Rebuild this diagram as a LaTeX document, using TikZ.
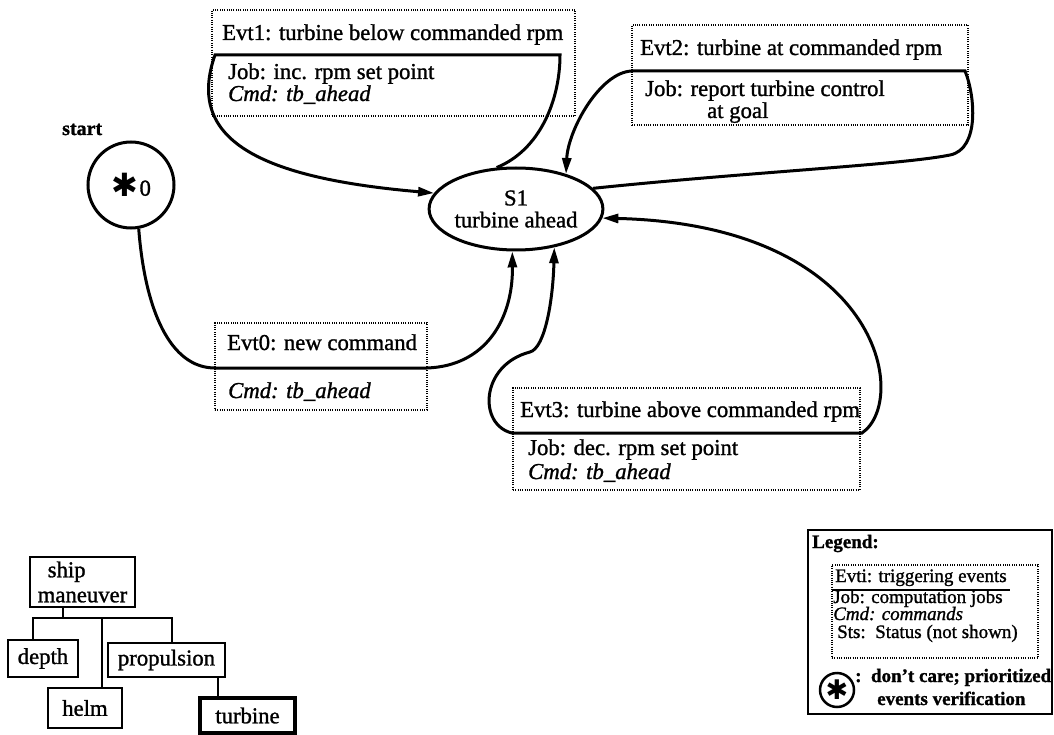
\documentclass[tikz,border=0pt]{standalone}
\usepackage{fontspec}
\setmainfont{Liberation Serif}[FakeBold=1.2]
\newfontfamily\symfont{DejaVu Sans}
\usetikzlibrary{arrows.meta,shapes.geometric,calc}
\newcommand\txtmain{\fontsize{22.7pt}{20pt}\selectfont}
\newcommand\txtleg{\fontsize{19pt}{18pt}\selectfont}
\begin{document}
\begin{tikzpicture}[x=1pt,y=-1pt,
  link/.style={line width=3pt},
  tip/.style={-{Triangle[length=16pt,width=9pt]}},
  bothtips/.style={{Triangle[length=16pt,width=9pt]}-{Triangle[length=16pt,width=9pt]}},
  evtbox/.style={draw, line width=1.2pt, dash pattern=on 1pt off 1.3pt, inner sep=0},
  lbl/.style={inner sep=0, anchor=base west, font=\txtmain},
  lblit/.style={lbl, font=\txtmain\itshape},
  leglbl/.style={inner sep=0, anchor=base west, font=\txtleg},
  state/.style={ellipse, draw, line width=3pt, minimum width=168pt, minimum height=82pt,
    inner sep=0, align=center, font=\fontsize{22.7pt}{22pt}\selectfont},
  startnode/.style={circle, draw, line width=3pt, minimum size=86pt, inner sep=0},
  treebox/.style={draw, line width=2.8pt, inner sep=0, font=\txtmain},
  treeline/.style={line width=2.8pt}
]
\useasboundingbox (0,0) rectangle (1054,735);

% state and start
\node[state] (s1) at (516,209) {S1\\turbine ahead};
\node[startnode] (start) at (131,185)
  {\raisebox{-1pt}{\symfont\fontsize{32pt}{32pt}\selectfont ✱}\,{\txtmain 0}};
\node[inner sep=0, anchor=base west, font=\bfseries\fontsize{20pt}{20pt}\selectfont] (startlbl) at (62,135) {start};

% Evt1
\node[evtbox, minimum width=363pt, minimum height=106pt] (evt1) at (393.5,63) {};
\node[lbl] (evt1h) at (222,40) {Evt1: turbine below commanded rpm};
\node[lbl] (evt1j) at (228,79) {Job: inc. rpm set point};
\node[lblit] (evt1c) at (228,101) {Cmd: tb\_ahead};
\coordinate (e1L) at (215,55);
\coordinate (e1R) at (560,55);
\draw[link, tip] (s1.115) .. controls (540,150) and (560,100) .. (e1R) -- (e1L)
  .. controls (185,140) and (260,178) .. (s1.169);

% Evt2
\node[evtbox, minimum width=336pt, minimum height=100pt] (evt2) at (800,75) {};
\node[lbl] (evt2h) at (640,55) {Evt2: turbine at commanded rpm};
\node[lbl] (evt2j) at (645,96) {Job: report turbine control};
\node[lbl] (evt2g) at (707,118) {at goal};
\coordinate (e2L) at (632,71);
\coordinate (e2R) at (965,71);
\draw[link, tip] (s1.15) .. controls (750,172) and (900,165) .. (950,155)
  .. controls (980,149) and (975,95) .. (e2R) -- (e2L)
  .. controls (600,72) and (568,130) .. (s1.35);

% Evt0
\node[evtbox, minimum width=212pt, minimum height=87pt] (evt0) at (321,366.5) {};
\node[lbl] (evt0h) at (227,350) {Evt0: new command};
\node[lblit] (evt0c) at (228,398) {Cmd: tb\_ahead};
\coordinate (e0L) at (215,368);
\coordinate (e0R) at (427,368);
\draw[link, tip] (start.-80) .. controls (145,310) and (170,368) .. (e0L) -- (e0R)
  .. controls (485,366) and (513,320) .. (s1.-95);

% Evt3
\node[evtbox, minimum width=347pt, minimum height=102pt] (evt3) at (686.5,439) {};
\node[lbl] (evt3h) at (520,417) {Evt3: turbine above commanded rpm};
\node[lbl] (evt3j) at (528,455) {Job: dec. rpm set point};
\node[lblit] (evt3c) at (528,479) {Cmd: tb\_ahead};
\coordinate (e3L) at (512,433);
\coordinate (e3R) at (862,433);
\draw[link, bothtips] (s1.-45) .. controls (553,300) and (545,348) .. (530,352)
  .. controls (480,365) and (478,425) .. (e3L) -- (e3R)
  .. controls (910,400) and (880,225) .. (s1.-6);

% hierarchy
\node[treebox, minimum width=105pt, minimum height=50pt, align=left,
  font=\fontsize{22.7pt}{25pt}\selectfont] (ship) at (82.5,582)
  {\hspace*{10pt}ship\\maneuver};
\node[treebox, minimum width=70pt, minimum height=37pt] (depth) at (43,658.5) {depth};
\node[treebox, minimum width=74pt, minimum height=40pt] (helm) at (85,708) {helm};
\node[treebox, minimum width=117pt, minimum height=34pt] (prop) at (166.5,660) {propulsion};
\node[treebox, line width=4.5pt, minimum width=95pt, minimum height=35pt] (turb) at (247.5,715.5) {turbine};
\coordinate (jm) at (63,618);
\coordinate (jd) at (33,618);
\coordinate (jh) at (102,618);
\coordinate (jp) at (172,618);
\coordinate (jt) at (218,690);
\draw[treeline] (ship.south -| jm) -- (jm);
\draw[treeline] (depth.north -| jd) -- (jd) -- (jp) -- (prop.north -| jp);
\draw[treeline] (jh) -- (helm.north -| jh);
\draw[treeline] (prop.south -| jt) -- (turb.north -| jt);

% legend
\node[draw, line width=2.2pt, minimum width=244pt, minimum height=184pt, inner sep=0] (legend) at (930,622) {};
\node[leglbl, font=\txtleg\bfseries] (legt) at (812,548) {Legend:};
\node[evtbox, minimum width=206pt, minimum height=93pt] (legevt) at (935,611.5) {};
\node[leglbl] (legh) at (835,582) {Evti: triggering events};
\coordinate (lsL) at (832,590);
\coordinate (lsR) at (1010,590);
\draw[line width=2.5pt] (lsL) -- (lsR);
\node[leglbl] (legj) at (833,603) {Job: computation jobs};
\node[leglbl, font=\txtleg\itshape] (legc) at (833,620) {Cmd: commands};
\node[leglbl] (legs) at (837,638) {Sts:\ \ Status (not shown)};
\node[circle, draw, line width=2.5pt, minimum size=34pt, inner sep=0] (legstar) at (837,690)
  {\raisebox{-1pt}{\symfont\fontsize{27pt}{27pt}\selectfont ✱}};
\node[leglbl, font=\txtleg\bfseries] (legd) at (855,682) {:\ \ don't care; prioritized};
\node[leglbl, font=\txtleg\bfseries] (legv) at (877,705) {events verification};
\end{tikzpicture}
\end{document}
